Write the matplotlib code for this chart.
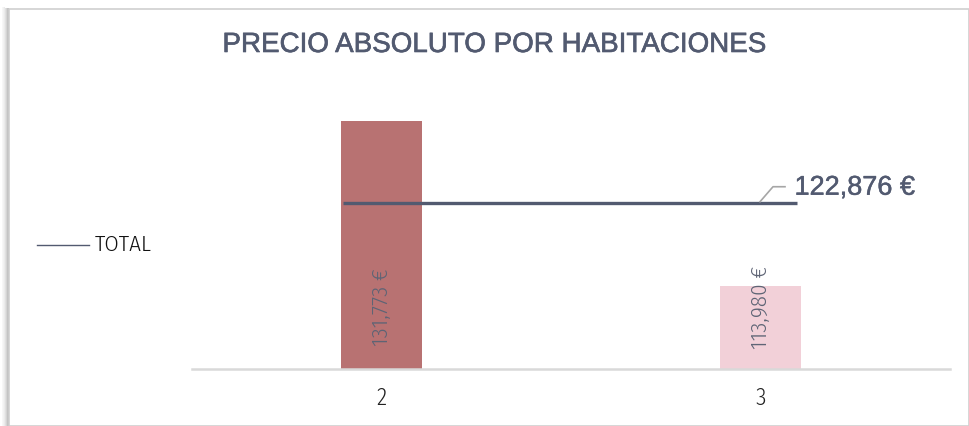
import matplotlib
matplotlib.use("Agg")
import matplotlib.pyplot as plt
import matplotlib.transforms as mtransforms
import matplotlib.patheffects as pe
from matplotlib.patches import Rectangle
from matplotlib.lines import Line2D

# ---- data ----
categories = ["2", "3"]
prices = [131773, 113980]
total_value = 122876
bar_labels = ["131,773 €", "113,980 €"]
total_label = "122,876 €"
title = "PRECIO ABSOLUTO POR HABITACIONES"
legend_label = "TOTAL"

W, H = 969, 426
fig = plt.figure(figsize=(W / 100, H / 100), dpi=100)
fig.patch.set_facecolor("white")

def px(x0, y0, w, h):
    return [x0 / W, 1 - (y0 + h) / H, w / W, h / H]

# frame with shadow
for i, a in enumerate([0.03, 0.05, 0.08, 0.12, 0.17, 0.23, 0.30]):
    fig.patches.append(Rectangle(((2 + i) / W, 0), 1 / W, (H - 7 - i * 0.2) / H,
                                 transform=fig.transFigure, facecolor="black",
                                 alpha=a, edgecolor="none", zorder=0))
fig.patches.append(Rectangle((9 / W, 0), (W - 9) / W, (H - 9) / H,
                             transform=fig.transFigure, facecolor="white",
                             edgecolor="#D0D0D0", linewidth=1.2, zorder=1))

dark = "#525A70"
colors = ["#B87272", "#F2D0D8"]
narrow = ["Fira Sans Condensed", "Barlow Condensed", "DejaVu Sans"]
wide = ["Liberation Sans", "DejaVu Sans"]

ax = fig.add_axes(px(192, 90.8, 758, 278.2))
ax.set_zorder(5)
ax.set_facecolor("none")
x = list(range(len(categories)))
ax.bar(x, prices, width=0.214, color=colors, zorder=2)
ax.set_xlim(-0.5, len(categories) - 0.5)
ax.set_ylim(105000, 135000)

# total line
ax.plot([x[0] - 0.102, x[-1] + 0.097], [total_value, total_value], color=dark,
        linewidth=2.4, zorder=3, solid_capstyle="butt")

# leader line + total label (pixel offsets from data point)
fig.canvas.draw()
p0 = ax.transData.transform((x[-1], total_value))
def inv(dx, dy):
    return fig.transFigure.inverted().transform((p0[0] + dx, p0[1] + dy))
pts = [inv(-0.5, 1.5), inv(12.5, 16.5), inv(24.5, 16.5)]
fig.lines.append(Line2D([p[0] for p in pts], [p[1] for p in pts],
                        transform=fig.transFigure, color="#A6A6A6", linewidth=1.2, zorder=6))
lp = inv(34, 15.5)
fig.text(lp[0], lp[1], total_label, fontsize=19.5, color=dark, family=wide,
         va="center", ha="left", zorder=6,
         path_effects=[pe.withStroke(linewidth=0.35, foreground=dark)])

# bar value labels
blend = mtransforms.blended_transform_factory(ax.transData, ax.transAxes)
for xi, lab in zip(x, bar_labels):
    ax.text(xi, 0.222, lab, transform=blend, rotation=90, ha="center", va="center",
            fontsize=16.5, color="#5E6475", family=narrow, fontweight=300, zorder=4)

# axes styling
for s in ["top", "right", "left"]:
    ax.spines[s].set_visible(False)
ax.spines["bottom"].set_color("#D9D9D9")
ax.spines["bottom"].set_linewidth(1.8)
ax.set_yticks([])
ax.set_xticks(x)
ax.set_xticklabels(categories, family=narrow, fontsize=17, color="#222222",
                   fontweight=300)
ax.tick_params(axis="x", length=0, pad=13)

# title
fig.text(494 / W, 1 - 45 / H, title, fontsize=20, color=dark, family=wide,
         ha="center", va="center", zorder=6,
         path_effects=[pe.withStroke(linewidth=0.45, foreground=dark)])

# legend
fig.lines.append(Line2D([37 / W, 89 / W], [1 - 245 / H] * 2, transform=fig.transFigure,
                        color=dark, linewidth=1.0, zorder=6))
fig.text(95 / W, 1 - 245 / H, legend_label, fontsize=16.5, color="#111111",
         family=narrow, fontweight=300, ha="left", va="center", zorder=6)

fig.savefig("out.png", dpi=100)
